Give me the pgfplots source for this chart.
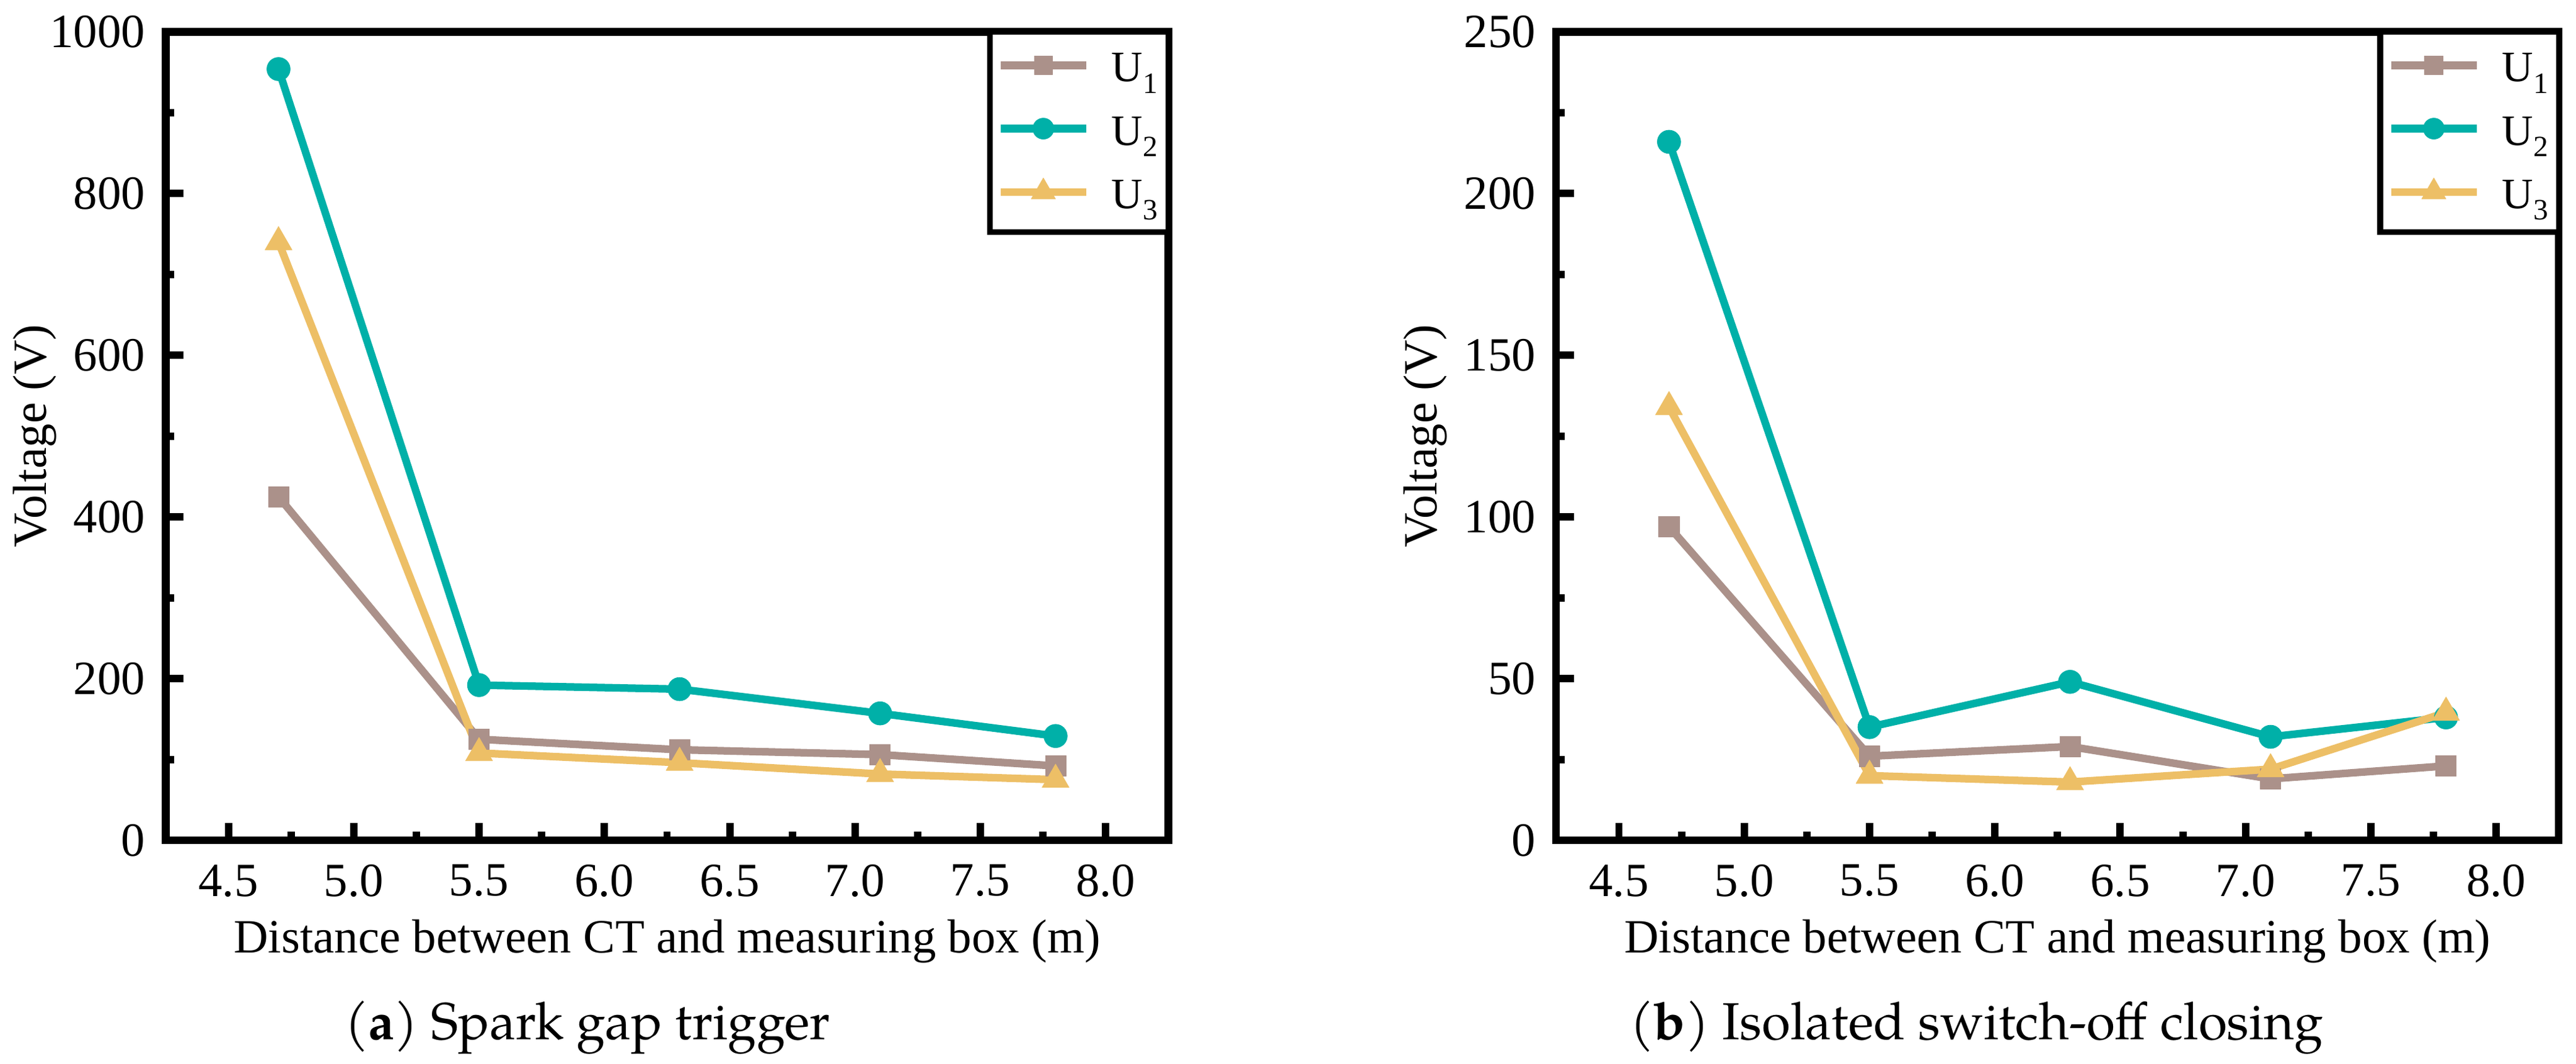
\documentclass[border=0pt]{standalone}
\usepackage{fontspec}
\setmainfont{Liberation Serif}
\newfontfamily\capfont{TeX Gyre Pagella}
\usepackage{pgfplots}
\pgfplotsset{compat=1.18}
\definecolor{cU1}{RGB}{171,145,138}
\definecolor{cU2}{RGB}{0,176,168}
\definecolor{cU3}{RGB}{237,191,102}
\newcommand{\sub}[1]{\raisebox{-2.6pt}{\fontsize{6.8pt}{7pt}\selectfont #1}}
\pgfplotsset{
  myaxis/.style={
    scale only axis, width=231.14pt, height=186.36pt,
    anchor=south west,
    xmin=4.25, xmax=8.25,
    xtick={4.5,5.0,5.5,6.0,6.5,7.0,7.5,8.0},
    minor x tick num=1, minor y tick num=1,
    tick align=inside, tick pos=left,
    major tick length=4.07pt, minor tick length=1.93pt,
    every tick/.style={black, line width=1.7pt},
    axis line style={line width=1.75pt},
    /pgf/number format/assume math mode=true,
    /pgf/number format/1000 sep={},
    tick label style={font=\fontsize{11pt}{13pt}\selectfont},
    x tick label style={/pgf/number format/fixed, /pgf/number format/fixed zerofill, /pgf/number format/precision=1},
    xticklabel style={inner sep=0pt, anchor=north, yshift=-5.43pt},
    yticklabel style={inner sep=0pt, anchor=east, xshift=-4.55pt},
    xlabel style={at={(axis description cs:0.5,-0.13875)}, anchor=base, font=\fontsize{11pt}{13pt}\selectfont},
    ylabel style={at={(axis description cs:-0.1194,0.5)}, anchor=base, font=\fontsize{11pt}{13pt}\selectfont},
    xlabel={Distance between CT and measuring box (m)},
    ylabel={Voltage (V)},
    legend style={at={(1,1)}, anchor=north east, draw=black, line width=1.3pt, outer sep=0pt,
      inner xsep=1.64pt, inner ysep=2.5pt, row sep=2.6pt, column sep=5pt,
      nodes={inner sep=0pt, text height=9pt, text depth=3pt, font=\fontsize{10pt}{12pt}\selectfont},
      cells={anchor=west}},
    legend image code/.code={\draw[mark repeat=2, mark phase=2, #1, every mark/.append style={scale=0.9}] plot coordinates {(0pt,0.8pt) (9.85pt,0.8pt) (19.7pt,0.8pt)};},
  },
  s1/.style={color=cU1, line width=1.75pt, line join=round, mark=square*, mark size=2.36pt, mark options={solid, fill=cU1, line width=0.1pt}},
  s2/.style={color=cU2, line width=1.75pt, line join=round, mark=*, mark size=2.7pt, mark options={solid, fill=cU2, line width=0.1pt}},
  s3/.style={color=cU3, line width=1.75pt, line join=round, mark=triangle*, mark size=3.6pt, mark options={solid, fill=cU3, line width=0.1pt}},
}
\begin{document}
\begin{tikzpicture}
\useasboundingbox (0,0) rectangle (593.857pt,245.143pt);
\begin{axis}[myaxis, at={(38.21pt,51.43pt)}, ymin=0, ymax=1000, ytick={0,200,400,600,800,1000}]
\addplot[s1] coordinates {(4.7,425) (5.5,125) (6.3,112) (7.1,106) (7.8,92)};
\addlegendentry{\makebox[11.45pt][l]{U\sub{1}}}
\addplot[s2] coordinates {(4.7,954) (5.5,192) (6.3,187) (7.1,157) (7.8,129)};
\addlegendentry{\makebox[11.45pt][l]{U\sub{2}}}
\addplot[s3] coordinates {(4.7,740) (5.5,108) (6.3,96) (7.1,82) (7.8,75)};
\addlegendentry{\makebox[11.45pt][l]{U\sub{3}}}
\end{axis}
\begin{axis}[myaxis, at={(358.76pt,51.43pt)}, ymin=0, ymax=250, ytick={0,50,100,150,200,250}]
\addplot[s1] coordinates {(4.7,97) (5.5,26) (6.3,29) (7.1,19) (7.8,23)};
\addlegendentry{\makebox[11.45pt][l]{U\sub{1}}}
\addplot[s2] coordinates {(4.7,216) (5.5,35) (6.3,49) (7.1,32) (7.8,38)};
\addlegendentry{\makebox[11.45pt][l]{U\sub{2}}}
\addplot[s3] coordinates {(4.7,134) (5.5,20) (6.3,18) (7.1,22) (7.8,39.5)};
\addlegendentry{\makebox[11.45pt][l]{U\sub{3}}}
\end{axis}
\node[anchor=base, font=\capfont\fontsize{12pt}{14pt}\selectfont] at (135.4pt,5.57pt) {(\textbf{a}) Spark gap trigger};
\node[anchor=base, font=\capfont\fontsize{12pt}{14pt}\selectfont] at (455.7pt,5.57pt) {(\textbf{b}) Isolated switch-off closing};
\end{tikzpicture}
\end{document}
